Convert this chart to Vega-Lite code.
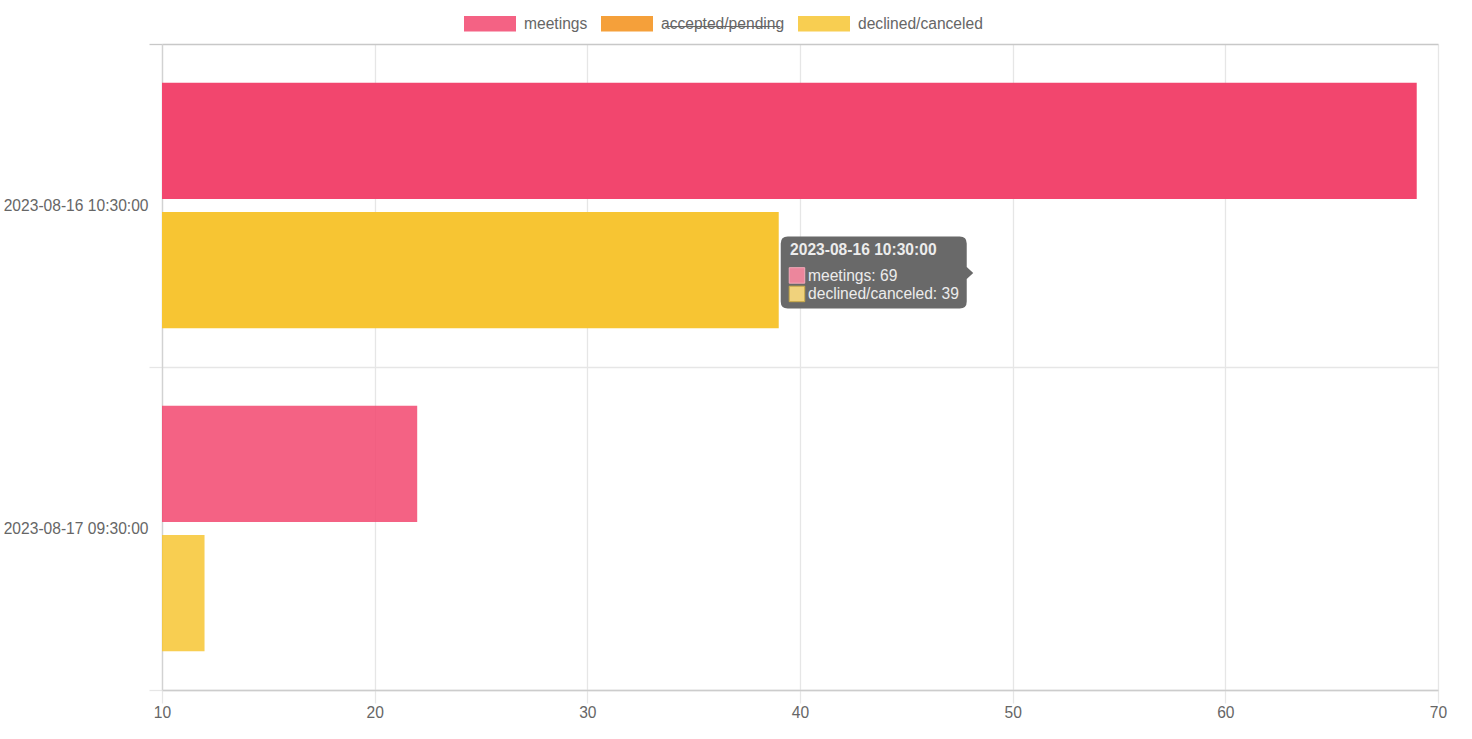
{
  "$schema": "https://vega.github.io/schema/vega-lite/v6.json",
  "width": 1276,
  "height": 646,
  "autosize": "none",
  "padding": {"left": 162, "top": 44, "right": 34, "bottom": 49},
  "background": "white",
  "data": {
    "values": [
      {"time": "2023-08-16 10:30:00", "series": "meetings", "value": 69},
      {"time": "2023-08-16 10:30:00", "series": "declined/canceled", "value": 39},
      {"time": "2023-08-17 09:30:00", "series": "meetings", "value": 22},
      {"time": "2023-08-17 09:30:00", "series": "declined/canceled", "value": 12}
    ]
  },
  "encoding": {
    "y": {
      "field": "time",
      "type": "nominal",
      "title": null,
      "scale": {"paddingInner": 0, "paddingOuter": 0},
      "axis": {
        "tickBand": "extent",
        "grid": true,
        "gridColor": {"condition": {"test": "datum.extra", "value": "#c8c8c8"}, "value": "#e6e6e6"},
        "gridWidth": {"condition": {"test": "datum.extra", "value": 1.6}, "value": 1.3},
        "tickColor": {"condition": {"test": "datum.extra", "value": "#c8c8c8"}, "value": "#e6e6e6"},
        "tickSize": 13,
        "tickWidth": 1.3,
        "domainColor": "#d2d2d2",
        "domainWidth": 1.3,
        "labelFont": "Liberation Sans",
        "labelFontSize": 15.6,
        "labelColor": "#666666",
        "labelPadding": 1,
        "labelAngle": 0
      }
    }
  },
  "layer": [
    {
      "mark": {"type": "bar", "clip": true},
      "encoding": {
        "x": {
          "field": "value",
          "type": "quantitative",
          "title": null,
          "scale": {"domain": [10, 70], "nice": false, "zero": false},
          "axis": {
            "values": [10, 20, 30, 40, 50, 60, 70],
            "grid": true,
            "gridColor": "#e6e6e6",
            "gridWidth": 1.3,
            "tickColor": "#e6e6e6",
            "tickSize": 13,
            "tickWidth": 1.3,
            "domainColor": "#cccccc",
            "domainWidth": 1.3,
            "labelFont": "Liberation Sans",
            "labelFontSize": 15.6,
            "labelColor": "#666666",
            "labelPadding": 2,
            "labelFlush": false
          }
        },
        "yOffset": {
          "field": "series",
          "scale": {"domain": ["meetings", "declined/canceled"], "paddingInner": 0.1, "paddingOuter": 0.3}
        },
        "color": {
          "field": "series",
          "type": "nominal",
          "scale": {
            "domain": ["meetings", "accepted/pending", "declined/canceled"],
            "range": ["#f2466e", "#f38f17", "#f7c533"]
          },
          "legend": {
            "title": null,
            "orient": "none",
            "direction": "horizontal",
            "legendX": 302,
            "legendY": -46.5,
            "symbolType": "M-1,-0.3H1V0.3H-1Z",
            "symbolSize": 2704,
            "symbolOpacity": 0.85,
            "symbolStrokeWidth": 0,
            "labelFont": "Liberation Sans",
            "labelFontSize": 15.6,
            "labelColor": "#666666",
            "labelOffset": 8,
            "columnPadding": 13,
            "labelExpr": "datum.label === 'accepted/pending' ? 'a\u0336c\u0336c\u0336e\u0336p\u0336t\u0336e\u0336d\u0336/\u0336p\u0336e\u0336n\u0336d\u0336i\u0336n\u0336g' : datum.label"
          }
        },
        "opacity": {
          "condition": {"test": "datum.time === '2023-08-16 10:30:00'", "value": 1},
          "value": 0.85
        }
      }
    },
    {
      "transform": [
        {"filter": "datum.time === '2023-08-16 10:30:00'"},
        {"pivot": "series", "value": "value", "groupby": ["time"]},
        {"calculate": "'meetings: ' + datum['meetings']", "as": "line1"},
        {"calculate": "'declined/canceled: ' + datum['declined/canceled']", "as": "line2"}
      ],
      "encoding": {
        "x": {"field": "declined/canceled", "type": "quantitative", "title": null}
      },
      "layer": [
        {
          "mark": {
            "type": "point",
            "filled": true,
            "opacity": 1,
            "strokeWidth": 0,
            "color": "#696969",
            "size": 4,
            "shape": "M9,31 H181 Q188,31 188,38 V61.5 L194.5,67.5 L188,73.5 V96 Q188,103 181,103 H9 Q2,103 2,96 V38 Q2,31 9,31 Z"
          }
        },
        {
          "mark": {
            "type": "point",
            "filled": true,
            "opacity": 1,
            "color": "#ec869c",
            "stroke": "#f4aabb",
            "strokeWidth": 1,
            "strokeOpacity": 1,
            "size": 4,
            "shape": "M10.5,62.2 H26 V77.7 H10.5 Z"
          }
        },
        {
          "mark": {
            "type": "point",
            "filled": true,
            "opacity": 1,
            "color": "#f0d27c",
            "stroke": "#c9a948",
            "strokeWidth": 1,
            "strokeOpacity": 1,
            "size": 4,
            "shape": "M10.5,80.7 H26 V96.2 H10.5 Z"
          }
        },
        {
          "mark": {"type": "text", "align": "left", "baseline": "middle", "dx": 11.3, "dy": 44.5, "font": "Liberation Sans", "fontSize": 15.6, "fontWeight": "bold", "color": "#ececec"},
          "encoding": {"text": {"field": "time"}}
        },
        {
          "mark": {"type": "text", "align": "left", "baseline": "middle", "dx": 29.3, "dy": 70, "font": "Liberation Sans", "fontSize": 15.6, "color": "#ececec"},
          "encoding": {"text": {"field": "line1"}}
        },
        {
          "mark": {"type": "text", "align": "left", "baseline": "middle", "dx": 29.3, "dy": 88.5, "font": "Liberation Sans", "fontSize": 15.6, "color": "#ececec"},
          "encoding": {"text": {"field": "line2"}}
        }
      ]
    }
  ],
  "config": {"view": {"stroke": null}}
}
